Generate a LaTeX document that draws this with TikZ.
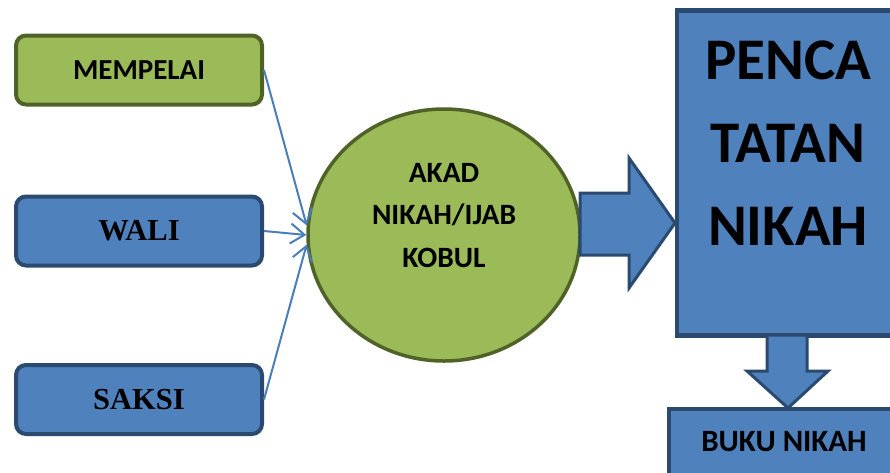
\documentclass[tikz,border=0pt]{standalone}
\usepackage{fontspec}
\setmainfont{Liberation Serif}
\newfontfamily\calibri{Carlito}
\usetikzlibrary{arrows.meta,shapes.geometric}
\definecolor{olivefill}{HTML}{9BBB59}
\definecolor{oliveline}{HTML}{4F6228}
\definecolor{bluefill}{HTML}{4F81BD}
\definecolor{blueline}{HTML}{2A4A70}
\definecolor{linkblue}{HTML}{4A7EBB}
\newcommand{\rshaftul}[0]{(580, 193)}
\newcommand{\rshaftll}[0]{(580, 255)}
\newcommand{\rheadup}[0]{(629, 158)}
\newcommand{\rheadlo}[0]{(629, 288)}
\newcommand{\rtip}[0]{(675, 223)}
\newcommand{\dshaftl}[0]{(767, 335)}
\newcommand{\dshaftr}[0]{(807, 335)}
\newcommand{\dheadl}[0]{(747, 371)}
\newcommand{\dheadr}[0]{(828, 371)}
\newcommand{\dtip}[0]{(788, 408)}
\tikzset{
  sidebox/.style={line width=4pt, rounded corners=10pt, minimum width=246pt, minimum height=69pt},
  greenbox/.style={sidebox, draw=oliveline, fill=olivefill, font=\calibri\bfseries\fontsize{29}{31}\selectfont},
  bluebox/.style={sidebox, draw=blueline, fill=bluefill, font=\bfseries\fontsize{30.5}{32}\selectfont},
  link/.style={draw=linkblue, line width=2pt, -{Straight Barb[length=14pt,width=20pt]}},
  blockarrow/.style={draw=blueline, fill=bluefill, line width=3pt, line join=miter},
}

\begin{document}
\begin{tikzpicture}[x=1pt, y=-1pt]
\useasboundingbox (0, 0) rectangle (890, 472);
\clip (0, 0) rectangle (890, 472);
\node[greenbox] (mempelai) at (139, 70) {MEMPELAI};
\node[bluebox] (wali) at (139, 231) {WALI};
\node[bluebox] (saksi) at (139, 399.5) {SAKSI};
\node[ellipse, draw=oliveline, fill=olivefill, line width=3.5pt, minimum width=272pt, minimum height=252pt] (akad) at (444, 235) {};
\node[font=\calibri\bfseries\fontsize{29.5}{42.5}\selectfont, align=center] (akadtext) at (444, 215.5) {AKAD\\NIKAH/IJAB\\KOBUL};
\draw[link] (mempelai.east) -- (akad.176);
\draw[link] (wali.east) -- (akad.west);
\draw[link] (saksi.east) -- (akad.184);
\filldraw[blockarrow] \rshaftul{} -- (629, 193) -- \rheadup{} -- \rtip{} -- \rheadlo{} -- (629, 255) -- \rshaftll{} -- cycle;
\node[draw=blueline, fill=bluefill, line width=4.5pt, minimum width=222pt, minimum height=325pt] (catat) at (788, 173) {};
\node[font=\calibri\bfseries\fontsize{59}{83}\selectfont, align=center] (catattext) at (788, 143) {PENCA\\TATAN\\NIKAH};
\filldraw[blockarrow] \dshaftl{} -- \dshaftr{} -- (807, 371) -- \dheadr{} -- \dtip{} -- \dheadl{} -- (767, 371) -- cycle;
\node[draw=blueline, fill=bluefill, line width=4pt, minimum width=230pt, minimum height=66pt, font=\calibri\bfseries\fontsize{31}{33}\selectfont] (buku) at (784, 442) {BUKU NIKAH};
\end{tikzpicture}
\end{document}
